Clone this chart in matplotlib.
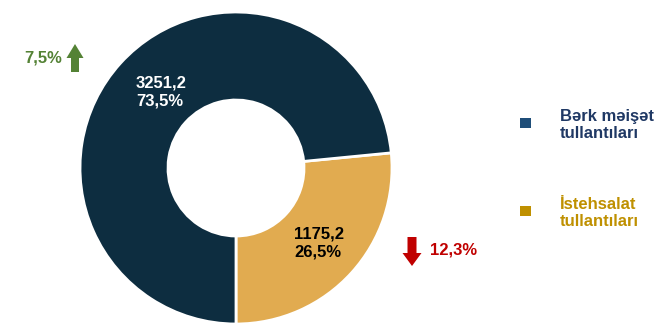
import matplotlib
matplotlib.use("Agg")
import matplotlib.pyplot as plt

categories = ["Bərk məişət\ntullantıları", "İstehsalat\ntullantıları"]
values = [3251.2, 1175.2]
shares = ["73,5%", "26,5%"]
value_labels = ["3251,2", "1175,2"]
changes = ["7,5%", "12,3%"]

slice_colors = ["#0D2D40", "#E1AB50"]
legend_colors = ["#1F4E79", "#BF9000"]
legend_text_colors = ["#1F3864", "#BF9000"]

plt.rcParams['font.family'] = ['Liberation Sans', 'DejaVu Sans']

W, H = 664, 328
fig = plt.figure(figsize=(W/100, H/100), dpi=100)
ax = fig.add_axes([0, 0, 1, 1])

cx, cy, R = 236, H - 168, 156
# orange first, counterclockwise from bottom
ax.pie([values[1], values[0]], colors=[slice_colors[1], slice_colors[0]],
       startangle=-90, counterclock=True, center=(cx, cy), radius=R,
       wedgeprops=dict(width=88, edgecolor='white', linewidth=2),
       frame=True)
ax.set_xlim(0, W)
ax.set_ylim(0, H)
ax.set_aspect('equal')
ax.axis('off')

# slice labels
ax.text(136, H - 92, f"{value_labels[0]}\n{shares[0]}", color='white', fontsize=12,
        fontweight='bold', ha='left', va='center', linespacing=1.25)
ax.text(294, H - 243, f"{value_labels[1]}\n{shares[1]}", color='black', fontsize=12,
        fontweight='bold', ha='left', va='center', linespacing=1.25)

# change indicators
green = "#548235"
red = "#C00000"

def arrow(xc, y_tail, y_tip, shaft_w, head_w, head_l, color):
    d = 1 if y_tip > y_tail else -1
    yb = y_tip - d * head_l
    pts = [(xc - shaft_w/2, y_tail), (xc - shaft_w/2, yb), (xc - head_w/2, yb),
           (xc, y_tip), (xc + head_w/2, yb), (xc + shaft_w/2, yb), (xc + shaft_w/2, y_tail)]
    ax.add_patch(plt.Polygon(pts, closed=True, color=color, lw=0))

ax.text(62, H - 58, changes[0], color=green, fontsize=12, fontweight='bold',
        ha='right', va='center')
arrow(75, H - 72, H - 44, 8, 17, 14, green)
ax.text(430, H - 250, changes[1], color=red, fontsize=12, fontweight='bold',
        ha='left', va='center')
arrow(412, H - 237, H - 266, 9, 19, 13, red)

# legend
leg_y = [H - 123, H - 211]
for i in range(2):
    ax.add_patch(plt.Rectangle((520, leg_y[i] - 5), 11, 10, color=legend_colors[i], lw=0))
    ax.text(560, leg_y[i] - 2, categories[i], color=legend_text_colors[i], fontsize=12,
            fontweight='bold', ha='left', va='center', linespacing=1.2)

fig.savefig("out.png", dpi=100)
